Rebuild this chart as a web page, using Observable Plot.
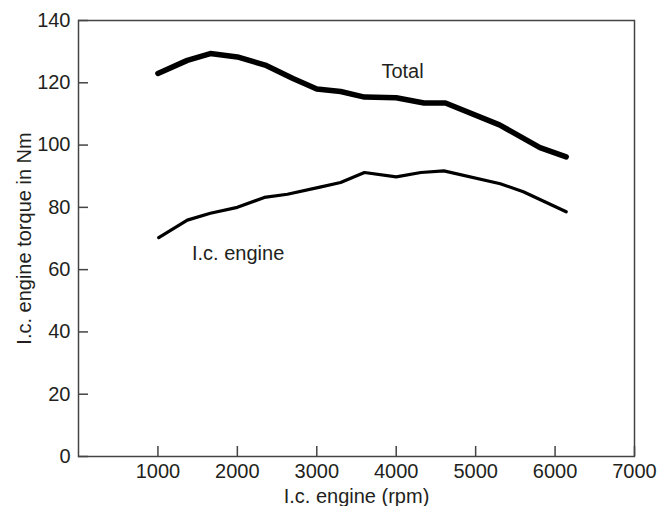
<!DOCTYPE html>
<html>
<head>
<meta charset="utf-8">
<script src="https://cdn.jsdelivr.net/npm/d3@7"></script>
<script src="https://cdn.jsdelivr.net/npm/@observablehq/plot@0.6"></script>
<style>
  html, body { margin: 0; padding: 0; background: #fff; }
  svg { display: block; }
</style>
</head>
<body>
<div id="chart"></div>
<script>
// Engine speed (rpm) and torque (Nm)
const totalRpm    = [1000, 1370, 1660, 2000, 2350, 2700, 3000, 3300, 3600, 4000, 4350, 4620, 5300, 5810, 6140];
const totalTorque = [123, 127.2, 129.4, 128.3, 125.7, 121.4, 118, 117.2, 115.4, 115.2, 113.5, 113.5, 106.5, 99.2, 96.2];

const engineRpm    = [1010, 1370, 1660, 2000, 2340, 2630, 3040, 3300, 3600, 4000, 4310, 4600, 5310, 5600, 6140];
const engineTorque = [70.3, 75.9, 78.1, 80, 83.2, 84.2, 86.5, 88, 91.2, 89.8, 91.2, 91.7, 87.6, 85, 78.6];

const xTicks = [1000, 2000, 3000, 4000, 5000, 6000, 7000];
const yTicks = [0, 20, 40, 60, 80, 100, 120, 140];

const labelNames = ["Total", "I.c. engine"];
const labelRpm = [4080, 2010];
const labelTorque = [123.6, 65.3];

const totalData = totalRpm.map((x, i) => ({x, y: totalTorque[i]}));
const engineData = engineRpm.map((x, i) => ({x, y: engineTorque[i]}));
const labelData = labelNames.map((t, i) => ({t, x: labelRpm[i], y: labelTorque[i]}));

const ink = "#231f20";
const W = 670, H = 506, mL = 78, mR = 36, mT = 20, mB = 50, TICK = 10;

const chart = Plot.plot({
  width: W,
  height: H,
  marginLeft: mL,
  marginRight: mR,
  marginTop: mT,
  marginBottom: mB,
  style: {fontFamily: "'Liberation Sans', Arial, Helvetica, sans-serif", fontSize: "20px", color: ink, background: "#fff"},
  x: {domain: [0, 7000]},
  y: {domain: [0, 140]},
  marks: [
    Plot.frame({stroke: "#444", strokeWidth: 1.5}),
    // inward tick marks
    Plot.ruleX(xTicks, {x: d => d, insetTop: H - mT - mB - TICK, stroke: "#444", strokeWidth: 1.5}),
    Plot.ruleY(yTicks, {y: d => d, insetRight: W - mL - mR - TICK, stroke: "#444", strokeWidth: 1.5}),
    // tick labels and titles
    Plot.axisX({ticks: xTicks, tickSize: 0, tickPadding: 7, tickFormat: d => String(d), fill: ink,
      label: "I.c. engine (rpm)", labelAnchor: "center", labelOffset: 46, labelArrow: "none"}),
    Plot.axisY({ticks: yTicks, tickSize: 0, tickPadding: 8, tickFormat: d => String(d), fill: ink,
      label: "I.c. engine torque in Nm", labelAnchor: "center", labelOffset: 62, labelArrow: "none"}),
    Plot.line(totalData, {x: "x", y: "y", stroke: "#000", strokeWidth: 5.5, strokeLinejoin: "round"}),
    Plot.line(engineData, {x: "x", y: "y", stroke: "#000", strokeWidth: 3.2, strokeLinejoin: "round"}),
    Plot.text(labelData, {x: "x", y: "y", text: "t", fontSize: 20, fill: ink})
  ]
});
document.getElementById("chart").appendChild(chart);
</script>
</body>
</html>
